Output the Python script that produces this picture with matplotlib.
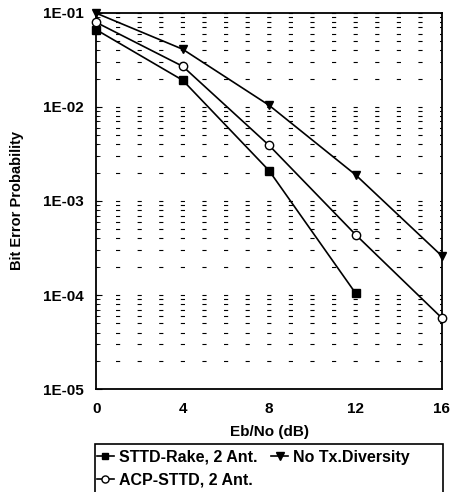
import matplotlib
matplotlib.use("Agg")
import matplotlib.pyplot as plt
from matplotlib.patches import Rectangle

plt.rcParams['font.family'] = ['Liberation Sans', 'DejaVu Sans']
plt.rcParams['font.weight'] = 'bold'
plt.rcParams['axes.labelweight'] = 'bold'
plt.rcParams['lines.scale_dashes'] = False

# datos
ebno_sttd = [0, 4, 8, 12]
ber_sttd = [0.066, 0.0192, 0.0021, 0.000105]

ebno = [0, 4, 8, 12, 16]
ber_acp = [0.079, 0.027, 0.0039, 0.00044, 5.7e-5]
ber_notx = [0.099, 0.041, 0.0104, 0.0019, 0.00026]

xticks = [0, 4, 8, 12, 16]
yticks = [1e-5, 1e-4, 1e-3, 1e-2, 1e-1]
ytick_labels = ['1E-05', '1E-04', '1E-03', '1E-02', '1E-01']

fig = plt.figure(figsize=(4.5, 4.92), dpi=100)
ax = fig.add_axes([0.214, 0.209, 0.768, 0.765])

ax.plot(ebno_sttd, ber_sttd, color='black', lw=1.2, marker='s', ms=5.5,
        mfc='black', label='STTD-Rake, 2 Ant.', clip_on=False, zorder=3)
ax.plot(ebno, ber_acp, color='black', lw=1.2, marker='o', ms=6,
        mfc='white', mew=1.0, label='ACP-STTD, 2 Ant.', clip_on=False, zorder=3)
ax.plot(ebno, ber_notx, color='black', lw=1.2, marker='v', ms=6,
        mfc='black', label='No Tx.Diversity', clip_on=False, zorder=3)

ax.set_yscale('log')
ax.set_xlim(0, 16)
ax.set_ylim(1e-5, 1e-1)
ax.set_xticks(xticks)
ax.set_yticks(yticks)
ax.set_yticklabels(ytick_labels)

# rejilla punteada horizontal (guiones en cada dB)
unit_pt = 0.768 * 4.5 * 72 / 16
ax.yaxis.grid(True, which='both', color='black', lw=0.8,
              linestyle=(1.5, (3.0, unit_pt - 3.0)))
ax.xaxis.grid(False)

ax.tick_params(axis='x', length=0, pad=9, labelsize=11)
ax.tick_params(axis='y', which='major', direction='in', length=4, pad=9, labelsize=11)
ax.tick_params(axis='y', which='minor', direction='in', length=3)
for s in ax.spines.values():
    s.set_linewidth(1.3)

ax.set_xlabel('Eb/No (dB)', fontsize=11, labelpad=7)
ax.set_ylabel('Bit Error Probability', fontsize=10.5, labelpad=14)

# leyenda con marco propio (cortado abajo como en el original)
fig.patches.append(Rectangle((95 / 450, -0.02), (443 - 95) / 450, 0.02 + 1 - 444 / 492,
                             transform=fig.transFigure, fill=False,
                             edgecolor='black', lw=1.2))
fig.legend(loc='upper left', bbox_to_anchor=(97 / 450, 1 - 450 / 492),
           ncol=2, fontsize=11.5, frameon=False, borderpad=0, borderaxespad=0,
           handlelength=1.05, handletextpad=0.3, columnspacing=0.9,
           labelspacing=0.5, markerscale=0.85)

fig.savefig('out.png', dpi=100)
